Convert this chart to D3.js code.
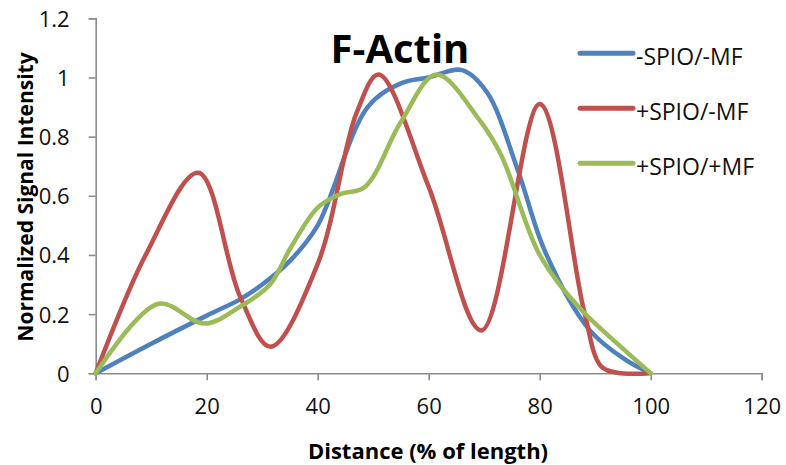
<!DOCTYPE html>
<html>
<head>
<meta charset="utf-8">
<script src="https://cdn.jsdelivr.net/npm/d3@7"></script>
<style>
  html, body { margin: 0; padding: 0; background: #fff; }
  svg { display: block; font-family: "Open Sans", sans-serif; }
</style>
</head>
<body>
<svg id="chart" width="786" height="465"></svg>
<script>
// Line profile of F-Actin signal along the cell length
const seriesNames = ["-SPIO/-MF", "+SPIO/-MF", "+SPIO/+MF"];
const seriesColors = ["#4F81BD", "#C0504D", "#9BBB59"];

const blueX = [0, 10, 20, 26, 30, 35, 40, 49, 55, 60, 66, 70.5, 76, 81, 89, 95.5, 100];
const blueY = [0, 0.10, 0.195, 0.25, 0.30, 0.38, 0.50, 0.90, 0.98, 1.0, 1.025, 0.95, 0.69, 0.41, 0.146, 0.045, 0];

const redX = [0, 9, 18.5, 26, 31.5, 40, 47, 51, 60, 69.5, 80, 88, 91, 94, 100];
const redY = [0, 0.40, 0.678, 0.26, 0.09, 0.37, 0.88, 1.01, 0.63, 0.145, 0.91, 0.21, 0.025, 0.002, 0];

const greenX = [0, 11.3, 19.6, 26, 31.4, 35, 40, 44, 48.5, 55, 61.4, 69, 73, 80, 87, 94, 100];
const greenY = [0, 0.235, 0.168, 0.225, 0.30, 0.42, 0.56, 0.605, 0.63, 0.85, 1.01, 0.86, 0.74, 0.40, 0.225, 0.10, 0];

const xTicks = [0, 20, 40, 60, 80, 100, 120];
const yTicks = [0, 0.2, 0.4, 0.6, 0.8, 1, 1.2];

const seriesX = [blueX, redX, greenX];
const seriesY = [blueY, redY, greenY];

const svg = d3.select("#chart");
const x = d3.scaleLinear().domain([0, 120]).range([95.7, 761.7]);
const y = d3.scaleLinear().domain([0, 1.2]).range([373.3, 18.3]);

const axisColor = "#8c8c8c";

// y axis
const yAxis = svg.append("g")
  .attr("transform", `translate(${x(0)},0)`)
  .call(d3.axisLeft(y).tickValues(yTicks).tickSize(7).tickPadding(19)
    .tickFormat(d => d3.format("")(+d.toFixed(1))));
// x axis
const xAxis = svg.append("g")
  .attr("transform", `translate(0,${y(0)})`)
  .call(d3.axisBottom(x).tickValues(xTicks).tickSize(7).tickPadding(17));

[yAxis, xAxis].forEach(g => {
  g.select(".domain").attr("stroke", axisColor).attr("stroke-width", 1.6);
  g.selectAll(".tick line").attr("stroke", axisColor).attr("stroke-width", 1.6);
  g.selectAll(".tick text")
    .attr("fill", "#111")
    .style("font-family", "'Open Sans', sans-serif")
    .style("font-size", "22px");
});
yAxis.selectAll(".tick text").attr("dy", "0.36em");
xAxis.selectAll(".tick text").attr("dy", "0.75em");

// series lines
const line = d3.line()
  .x(d => x(d[0]))
  .y(d => y(d[1]))
  .curve(d3.curveCatmullRom.alpha(0.5));

seriesNames.forEach((name, i) => {
  const pts = seriesX[i].map((v, j) => [v, seriesY[i][j]]);
  svg.append("path")
    .datum(pts)
    .attr("d", line)
    .attr("fill", "none")
    .attr("stroke", seriesColors[i])
    .attr("stroke-width", 4.5)
    .attr("stroke-linejoin", "round")
    .attr("stroke-linecap", "round");
});

// title
svg.append("text")
  .attr("x", 400).attr("y", 63)
  .attr("text-anchor", "middle")
  .style("font-size", "40px").style("font-weight", "700")
  .attr("fill", "#000")
  .text("F-Actin");

// axis titles
svg.append("text")
  .attr("x", 428).attr("y", 459)
  .attr("text-anchor", "middle")
  .style("font-size", "22px").style("font-weight", "700")
  .attr("fill", "#000")
  .text("Distance (% of length)");

svg.append("text")
  .attr("transform", "translate(33,197) rotate(-90)")
  .attr("text-anchor", "middle")
  .style("font-size", "21px").style("font-weight", "700")
  .attr("fill", "#000")
  .text("Normalized Signal Intensity");

// legend
const legend = svg.append("g");
seriesNames.forEach((name, i) => {
  const ly = 53.3 + i * 55;
  legend.append("line")
    .attr("x1", 580).attr("x2", 633)
    .attr("y1", ly).attr("y2", ly)
    .attr("stroke", seriesColors[i])
    .attr("stroke-width", 5)
    .attr("stroke-linecap", "round");
  legend.append("text")
    .attr("x", 636).attr("y", ly + 11.5)
    .style("font-size", "23px")
    .attr("fill", "#111")
    .text(name);
});
</script>
</body>
</html>
